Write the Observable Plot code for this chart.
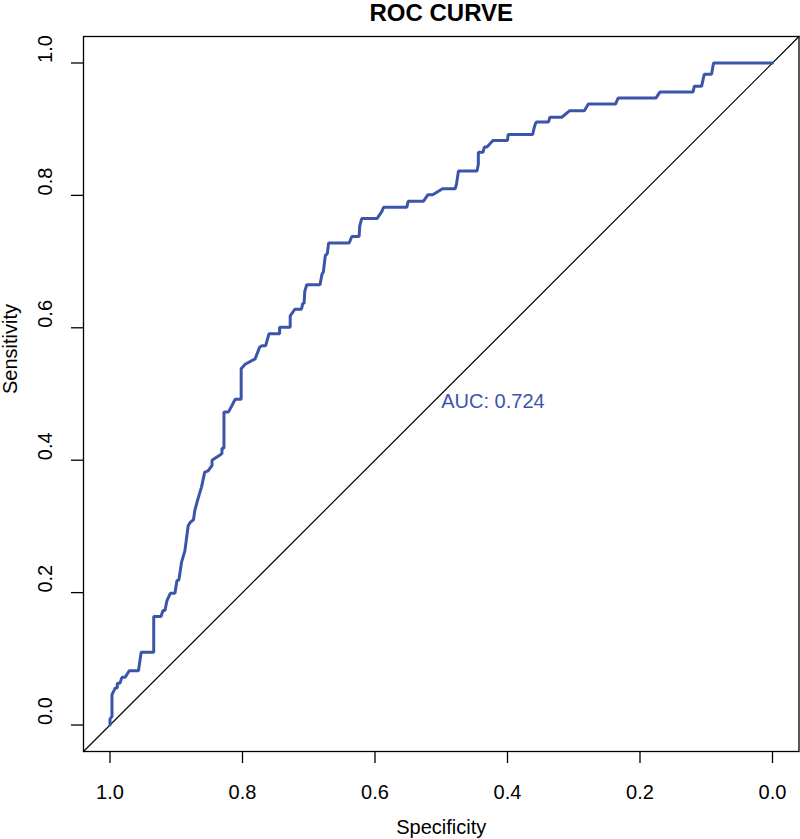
<!DOCTYPE html>
<html>
<head>
<meta charset="utf-8">
<script src="https://cdn.jsdelivr.net/npm/d3@7"></script>
<script src="https://cdn.jsdelivr.net/npm/@observablehq/plot@0.6"></script>
<style>
  html, body { margin: 0; padding: 0; background: #ffffff; }
  #chart { width: 800px; height: 839px; }
</style>
</head>
<body>
<div id="chart"></div>
<script>
// ROC curve vertices (specificity, sensitivity)
const specificity = [
  1.000, 1.000, 0.997, 0.997, 0.992, 0.989, 0.989, 0.985, 0.982, 0.977,
  0.971, 0.957, 0.953, 0.934, 0.934, 0.923, 0.920, 0.917, 0.914, 0.909,
  0.902, 0.899, 0.896, 0.892, 0.887, 0.882, 0.879, 0.874, 0.872, 0.868,
  0.862, 0.857, 0.852, 0.846, 0.846, 0.834, 0.831, 0.831, 0.828, 0.828,
  0.821, 0.811, 0.802, 0.802, 0.796, 0.781, 0.774, 0.770, 0.765, 0.760,
  0.744, 0.744, 0.728, 0.728, 0.721, 0.711, 0.709, 0.707, 0.706, 0.703,
  0.683, 0.680, 0.678, 0.675, 0.672, 0.670, 0.639, 0.635, 0.624, 0.623,
  0.620, 0.597, 0.590, 0.587, 0.552, 0.550, 0.527, 0.520, 0.513, 0.498,
  0.479, 0.477, 0.474, 0.446, 0.444, 0.444, 0.437, 0.435, 0.431, 0.422,
  0.400, 0.399, 0.362, 0.360, 0.358, 0.356, 0.338, 0.336, 0.318, 0.306,
  0.284, 0.278, 0.237, 0.233, 0.176, 0.170, 0.120, 0.118, 0.107, 0.103,
  0.092, 0.089, 0.000
];
const sensitivity = [
  0.000, 0.009, 0.013, 0.046, 0.056, 0.056, 0.063, 0.063, 0.072, 0.072,
  0.082, 0.082, 0.110, 0.110, 0.164, 0.164, 0.173, 0.173, 0.188, 0.199,
  0.199, 0.218, 0.219, 0.246, 0.263, 0.301, 0.306, 0.310, 0.324, 0.339,
  0.359, 0.382, 0.384, 0.392, 0.400, 0.408, 0.410, 0.418, 0.418, 0.473,
  0.473, 0.492, 0.492, 0.538, 0.545, 0.553, 0.571, 0.573, 0.573, 0.591,
  0.591, 0.601, 0.601, 0.618, 0.628, 0.628, 0.637, 0.637, 0.655, 0.665,
  0.665, 0.681, 0.684, 0.709, 0.712, 0.728, 0.728, 0.738, 0.738, 0.754,
  0.765, 0.765, 0.775, 0.782, 0.782, 0.791, 0.791, 0.801, 0.801, 0.810,
  0.810, 0.817, 0.837, 0.837, 0.847, 0.865, 0.865, 0.873, 0.873, 0.883,
  0.883, 0.892, 0.892, 0.901, 0.908, 0.911, 0.911, 0.918, 0.918, 0.928,
  0.928, 0.938, 0.938, 0.947, 0.947, 0.956, 0.956, 0.965, 0.965, 0.983,
  0.983, 1.000, 1.000
];

const xTicks = [1.0, 0.8, 0.6, 0.4, 0.2, 0.0];
const yTicks = [0.0, 0.2, 0.4, 0.6, 0.8, 1.0];
const xTickLabels = ["1.0", "0.8", "0.6", "0.4", "0.2", "0.0"];
const yTickLabels = ["0.0", "0.2", "0.4", "0.6", "0.8", "1.0"];
const xDomain = [1.04, -0.04];
const yDomain = [-0.04, 1.04];
const titleText = ["ROC CURVE"];
const xLabelText = ["Specificity"];
const yLabelText = ["Sensitivity"];
const aucLabels = ["AUC: 0.724"];
const aucSpec = [0.5];
const aucSens = [0.5];

const curveColor = "#3b55ab";
const font = "'Liberation Sans', Arial, Helvetica, sans-serif";

const roc = specificity.map((s, i) => ({spec: s, sens: sensitivity[i]}));
const diagonal = xDomain.map(x => ({spec: x, sens: 1 - x}));
const xTickData = xTicks.map((v, i) => ({v, label: xTickLabels[i]}));
const yTickData = yTicks.map((v, i) => ({v, label: yTickLabels[i]}));
const aucData = aucLabels.map((t, i) => ({spec: aucSpec[i], sens: aucSens[i], label: t}));

const chart = Plot.plot({
  width: 800,
  height: 839,
  marginLeft: 83,
  marginRight: 1.5,
  marginTop: 36,
  marginBottom: 88,
  style: {fontFamily: font, background: "#ffffff", color: "#000000", overflow: "visible"},
  x: {domain: xDomain},
  y: {domain: yDomain},
  marks: [
    Plot.line(diagonal, {x: "spec", y: "sens", stroke: "#000000", strokeWidth: 1.2}),
    Plot.line(roc, {x: "spec", y: "sens", stroke: curveColor, strokeWidth: 3, strokeLinejoin: "miter"}),
    Plot.frame({stroke: "#000000", strokeWidth: 1.3}),
    Plot.axisX({ticks: xTicks, tickSize: 12, fill: "none", stroke: "#000000", strokeWidth: 1.3, label: null}),
    Plot.axisY({ticks: yTicks, tickSize: 12, fill: "none", stroke: "#000000", strokeWidth: 1.3, label: null}),
    Plot.text(xTickData, {x: "v", text: "label", frameAnchor: "bottom", lineAnchor: "top", dy: 33, fontSize: 20, fill: "#000000"}),
    Plot.text(yTickData, {y: "v", text: "label", frameAnchor: "left", lineAnchor: "top", rotate: -90, dx: -46, fontSize: 20, fill: "#000000"}),
    Plot.text(xLabelText, {text: d => d, frameAnchor: "bottom", lineAnchor: "top", dy: 68, fontSize: 20, fill: "#000000"}),
    Plot.text(yLabelText, {text: d => d, frameAnchor: "left", lineAnchor: "top", rotate: -90, dx: -81, fontSize: 20, fill: "#000000"}),
    Plot.text(titleText, {text: d => d, frameAnchor: "top", lineAnchor: "top", dy: -33, fontSize: 24, fontWeight: "bold", fill: "#000000"}),
    Plot.text(aucData, {x: "spec", y: "sens", text: "label", textAnchor: "start", lineAnchor: "top", fontSize: 20, fill: curveColor})
  ]
});

document.getElementById("chart").appendChild(chart);
</script>
</body>
</html>
